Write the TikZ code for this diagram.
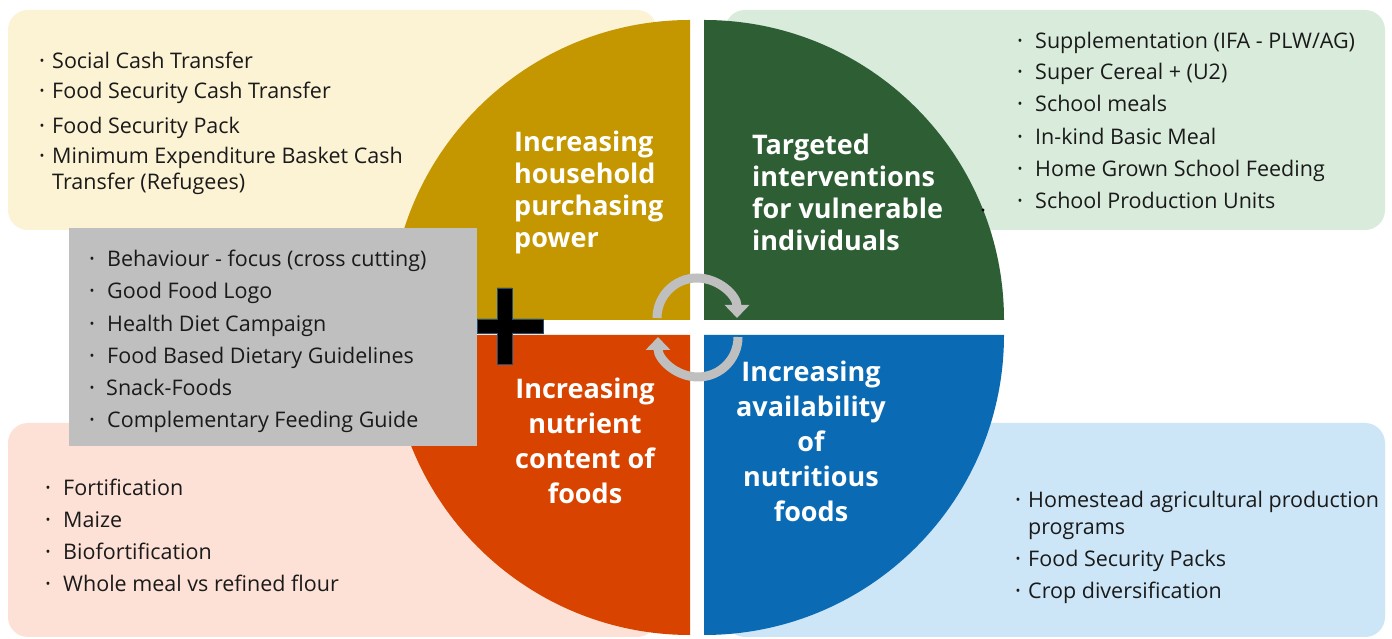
\documentclass[tikz,border=0pt]{standalone}
\usepackage{fontspec}
\setmainfont{Open Sans}
\usetikzlibrary{arrows.meta}
\definecolor{goldq}{RGB}{196,150,0}
\definecolor{greenq}{RGB}{46,94,52}
\definecolor{orangeq}{RGB}{216,68,0}
\definecolor{blueq}{RGB}{10,107,180}
\definecolor{yellowbg}{RGB}{252,242,212}
\definecolor{greenbg}{RGB}{217,236,219}
\definecolor{salmonbg}{RGB}{253,225,214}
\definecolor{bluebg}{RGB}{204,230,248}
\definecolor{grayb}{RGB}{191,191,191}
\definecolor{plusedge}{RGB}{31,78,121}
\definecolor{txt}{RGB}{26,26,26}
\tikzset{
  bgbox/.style={rounded corners=20pt},
  itm/.style={anchor=base west,inner sep=0pt,text=txt,font=\fontsize{21.5}{24}\selectfont},
  bul/.style={anchor=center,inner sep=0pt,text=txt,font=\fontsize{13}{13}\selectfont},
  ttl/.style={inner sep=0pt,text=white,font=\bfseries\fontsize{27}{32}\selectfont},
  ttlb/.style={inner sep=0pt,text=white,font=\bfseries\fontsize{27}{35}\selectfont,align=center},
  cyc/.style={draw=grayb,line width=9pt,-{Triangle[width=24pt,length=13pt]}},
}
\newcommand\li[5]{\node[bul] (#1d) at (#2,{639-#4-2}) {•};\node[itm] (#1) at (#3,{639-#4-9}) {#5};}
\newcommand\lc[4]{\node[itm] (#1) at (#2,{639-#3-9}) {#4};}
\begin{document}
\begin{tikzpicture}[x=1pt,y=1pt]
\useasboundingbox (0,0) rectangle (1392,639);
\fill[white] (0,0) rectangle (1392,639);
% background boxes
\fill[yellowbg,bgbox] (8,409) rectangle (657,629);
\fill[greenbg,bgbox] (725,409) rectangle (1385,629);
\fill[salmonbg,bgbox] (8,2) rectangle (657,216);
\fill[bluebg,bgbox] (725,2) rectangle (1385,216);
% quadrants
\fill[goldq] (690,319) -- ++(-300,0) arc[start angle=180,end angle=90,radius=300] -- cycle;
\fill[greenq] (704,319) -- ++(0,300) arc[start angle=90,end angle=0,radius=300] -- cycle;
\fill[orangeq] (690,304) -- ++(-300,0) arc[start angle=180,end angle=270,radius=300] -- cycle;
\fill[blueq] (704,304) -- ++(300,0) arc[start angle=0,end angle=-90,radius=300] -- cycle;
% gray box
\fill[grayb] (69,193) rectangle (477,411);
% plus sign
\filldraw[fill=black,draw=plusedge,line width=0.8pt] (497,351) -- (512,351) -- (512,320) -- (543,320) -- (543,306) -- (512,306) -- (512,275) -- (497,275) -- (497,306) -- (477,306) -- (477,320) -- (497,320) -- cycle;
% cycle arrows
\draw[cyc] (657,321) arc[start angle=180,end angle=0,radius=40];
\draw[cyc] (738,302) arc[start angle=0,end angle=-180,radius=40];
\fill[black] (983,429) circle (1.6);
% titles
\node[ttl,anchor=west,align=left] (t1) at (514,447) {Increasing\\household\\purchasing\\power};
\node[ttl,anchor=west,align=left] (t2) at (752,447) {Targeted\\interventions\\for vulnerable\\individuals};
\node[ttlb] (t3) at (585,198) {Increasing\\nutrient\\content of\\foods};
\node[ttlb] (t4) at (811,198) {Increasing\\availability\\of\\nutritious\\foods};
% yellow list
\li{y1}{42}{52}{60}{Social Cash Transfer}
\li{y2}{42}{52}{90}{Food Security Cash Transfer}
\li{y3}{42}{52}{125}{Food Security Pack}
\li{y4}{42}{52}{155}{Minimum Expenditure Basket Cash}
\lc{y5}{52}{181}{Transfer (Refugees)}
% green list
\li{g1}{1020}{1035}{40}{Supplementation (IFA - PLW/AG)}
\li{g2}{1020}{1035}{71}{Super Cereal + (U2)}
\li{g3}{1020}{1035}{103}{School meals}
\li{g4}{1020}{1035}{136}{In-kind Basic Meal}
\li{g5}{1020}{1035}{168}{Home Grown School Feeding}
\li{g6}{1020}{1035}{200}{School Production Units}
% gray list
\li{k1}{92}{107}{258}{Behaviour - focus (cross cutting)}
\li{k2}{92}{107}{290}{Good Food Logo}
\li{k3}{92}{107}{323}{Health Diet Campaign}
\li{k4}{92}{107}{355}{Food Based Dietary Guidelines}
\li{k5}{92}{106}{387}{Snack-Foods}
\li{k6}{92}{107}{419}{Complementary Feeding Guide}
% salmon list
\li{s1}{48}{63}{487}{Fortification}
\li{s2}{48}{63}{519}{Maize}
\li{s3}{48}{63}{551}{Biofortification}
\li{s4}{48}{63}{583}{Whole meal vs refined flour}
% blue list
\li{b1}{1018}{1028}{499}{Homestead agricultural production}
\lc{b2}{1028}{526}{programs}
\li{b3}{1018}{1028}{558}{Food Security Packs}
\li{b4}{1018}{1028}{590}{Crop diversification}
\end{tikzpicture}
\end{document}
